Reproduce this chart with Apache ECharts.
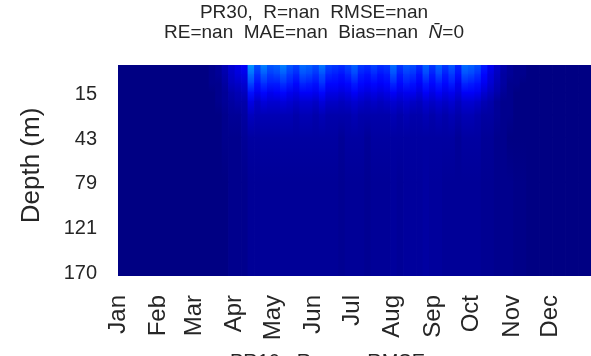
<!DOCTYPE html>
<html>
<head>
<meta charset="utf-8">
<script src="https://cdn.jsdelivr.net/npm/echarts@6/dist/echarts.min.js"></script>
<style>
html,body{margin:0;padding:0;background:#fff;}
#chart{width:591px;height:356px;}
</style>
</head>
<body>
<div id="chart"></div>
<script>
// ---- data ----
const months = ['Jan','Feb','Mar','Apr','May','Jun','Jul','Aug','Sep','Oct','Nov','Dec'];
const monthStartDays = [0,31,59,90,120,151,181,212,243,273,304,334];
const depthLevels = [1,3,5,7.5,10,12.5,15,17.5,20,23,26,29,31.5,34.5,37,40,43,46.5,50,53.5,57,61,64.5,68,72,75.5,79,83,87,91.5,95.5,100,104,108,112.5,117,121,126,131,136,141,145.5,150.5,155.5,160,165,170];
const depthTickLabels = [15,43,79,121,170];
// depth bands (index ranges into depthLevels); value given at the top of each band
const bandRows = [[0,1],[2,3],[4,5],[6,7],[8,10],[11,15],[16,25],[26,46]];
// 5-day values (73 pentads), one list per depth band, colour scale 0..100
const band0 = [0,0,0,0,0,0,0,0,0,0, 0,0,0,0,1,2,5,8,10,12, 27,20,25,21,22,25,21,19,23,22, 20,24,19,18,17,19,22,18,17,19, 17,18,23,18,21,20,17,22,18,22, 18,21,16,23,22,20,15,11,7,4, 2,1,1,0,0,0,0,0,0,0, 0,0,0];
const band1 = [0,0,0,0,0,0,0,0,0,0, 0,0,0,0,1,2,4,7,9,10, 23,17,21,18,19,21,18,16,20,19, 17,20,16,15,14,16,19,15,14,16, 14,15,20,15,18,17,14,19,15,19, 15,18,14,20,19,17,13,9,6,3, 2,1,1,0,0,0,0,0,0,0, 0,0,0];
const band2 = [0,0,0,0,0,0,0,0,0,0, 0,0,0,0,1,1,3,6,7,8, 19,14,17,15,15,17,15,13,16,15, 14,17,13,13,12,13,15,13,12,13, 12,13,16,13,15,14,12,15,13,15, 13,15,11,16,15,14,11,8,5,3, 1,1,0,0,0,0,0,0,0,0, 0,0,0];
const band3 = [0,0,0,0,0,0,0,0,0,0, 0,0,0,0,0,1,2,4,5,6, 14,11,13,11,12,13,11,10,12,12, 11,13,10,10,9,10,12,10,9,10, 9,10,12,10,11,11,9,12,10,12, 10,11,9,12,12,11,8,6,4,2, 1,0,0,0,0,0,0,0,0,0, 0,0,0];
const band4 = [0,0,0,0,0,0,0,0,0,0, 0,0,0,0,0,1,2,3,4,4, 10,7,9,8,8,9,8,7,8,8, 7,9,7,7,6,7,8,7,6,7, 6,7,8,7,8,7,6,8,7,8, 7,8,6,8,8,7,5,4,2,1, 1,0,0,0,0,0,0,0,0,0, 0,0,0];
const band5 = [0,0,0,0,0,0,0,0,0,0, 0,0,0,0,0,0,1,2,2,3, 6,5,5,5,5,5,5,4,5,5, 4,5,4,4,4,4,5,4,4,4, 4,4,5,4,5,4,4,5,4,5, 4,5,4,5,5,4,3,3,2,1, 1,0,0,0,0,0,0,0,0,0, 0,0,0];
const band6 = [0,0,0,0,0,0,0,0,0,0, 0,0,0,0,0,0,1,1,1,2, 3,3,3,3,3,3,3,3,3,3, 3,3,3,3,2,3,3,3,2,3, 3,3,3,3,3,3,3,3,3,3, 3,3,2,3,3,3,2,2,1,1, 0,0,0,0,0,0,0,0,0,0, 0,0,0];
const band7 = [0,0,0,0,0,0,0,0,0,0, 0,0,0,0,0,0,0,1,1,1, 2,2,2,2,2,2,2,2,2,2, 2,2,2,2,1.5,2,2,2,1.5,2, 2,2,2.5,2,2.5,2.5,2.5,3,2.5,2.5, 2,2,2,2,2,2,1.5,1.5,1,1, 1,0.5,0.5,0,0,0,0,0,0,0, 0,0,0];
const bands = [band0,band1,band2,band3,band4,band5,band6,band7];

// ---- build ----
const VMAX = 100;
const items = [];
bands.forEach((arr, b) => {
  const next = bands[Math.min(b + 1, bands.length - 1)];
  arr.forEach((v, k) => {
    items.push([k*5, Math.min(k*5+5, 365), bandRows[b][0], bandRows[b][1], v, next[k], b]);
  });
});
const jet = ['#000083','#0000ff','#0080ff','#00ffff','#80ff80','#ffff00','#ff8000','#ff0000','#800000'];
function jetColor(v) {
  const t = Math.max(0, Math.min(1, v / VMAX));
  if (echarts.color && echarts.color.lerp) return echarts.color.lerp(t, jet);
  return jet[Math.round(t * (jet.length - 1))];
}
const FONT = 'Liberation Sans, Arial, Helvetica, sans-serif';
const TXT = '#262626';

const chart = echarts.init(document.getElementById('chart'), null, {renderer:'canvas'});
chart.setOption({
  animation: false,
  backgroundColor: '#ffffff',
  title: [{
    text: 'PR30,  R=nan  RMSE=nan\nRE=nan  MAE=nan  Bias=nan  {n|N\u0304}=0',
    left: 314, textAlign: 'center', top: 3, padding: 0,
    textStyle: {fontFamily: FONT, fontSize: 19, fontWeight: 'normal', color: TXT, lineHeight: 20,
      rich: {n: {fontFamily: FONT, fontSize: 19, fontStyle: 'italic', color: TXT, lineHeight: 20}}}
  }, {
    text: 'PR10,  R=nan  RMSE=nan',
    left: 350, textAlign: 'center', top: 352, padding: 0,
    textStyle: {fontFamily: FONT, fontSize: 20, fontWeight: 'normal', color: TXT}
  }],
  grid: {left: 118, top: 65, right: 0, bottom: 80, containLabel: false},
  visualMap: {type: 'continuous', show: false, min: 0, max: VMAX, dimension: 4, seriesIndex: 0, inRange: {color: jet}},
  xAxis: {
    type: 'value', min: 0, max: 365,
    axisLine: {show: false}, axisTick: {show: false}, splitLine: {show: false},
    axisLabel: {
      customValues: monthStartDays,
      formatter: (v) => months[monthStartDays.indexOf(v)],
      rotate: 90, margin: 19, fontSize: 24, fontFamily: FONT, color: TXT
    }
  },
  yAxis: {
    type: 'category', inverse: true,
    data: depthLevels.map(String),
    axisLine: {show: false}, axisTick: {show: false}, splitLine: {show: false},
    axisLabel: {
      interval: (i, val) => depthTickLabels.indexOf(Number(val)) >= 0,
      margin: 21, fontSize: 20, fontFamily: FONT, color: TXT
    },
    name: 'Depth (m)', nameLocation: 'middle', nameGap: 73, nameRotate: 90,
    nameTextStyle: {fontFamily: FONT, fontSize: 26, color: TXT, padding: [0,0,0,10]}
  },
  series: [{
    type: 'custom', clip: true,
    encode: {x: [0,1], y: [2,3]},
    data: items,
    renderItem: function (params, api) {
      const pA = api.coord([api.value(0), api.value(2)]);
      const pB = api.coord([api.value(1), api.value(3)]);
      const h = api.size([0, 1])[1];
      const top = Math.min(pA[1], pB[1]) - h/2;
      const bottom = Math.max(pA[1], pB[1]) + h/2;
      const c0 = api.visual('color');
      const c1 = jetColor(api.value(5));
      return {type: 'rect',
        z2: api.value(6),
        shape: {x: pA[0], y: top, width: pB[0]-pA[0]+0.8, height: bottom-top+1.2},
        style: {fill: {type: 'linear', x: 0, y: 0, x2: 0, y2: 1,
          colorStops: [{offset: 0, color: c0}, {offset: 1, color: c1}]}}};
    }
  }]
});
</script>
</body>
</html>
